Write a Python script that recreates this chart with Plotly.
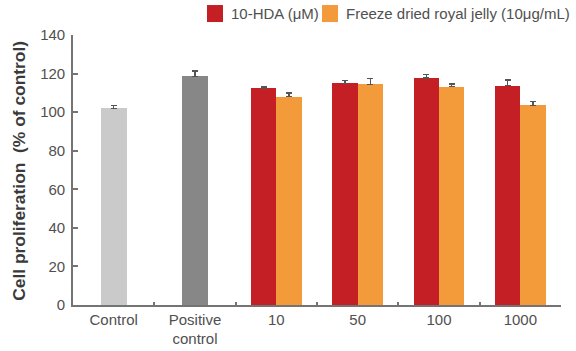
import plotly.graph_objects as go

categories = ["Control", "Positive<br>control", "10", "50", "100", "1000"]
ctrl_cats = ["Control", "Positive<br>control"]
ctrl_vals = [102, 118.5]
ctrl_err = [1.5, 2.8]
ctrl_colors = ["#c9cac9", "#878787"]

dose_cats = ["10", "50", "100", "1000"]
hda_vals = [112.6, 114.9, 117.6, 113.7]
hda_err = [0.7, 1.4, 2.0, 3.0]
rj_vals = [108.0, 114.4, 113.2, 103.5]
rj_err = [2.0, 3.0, 1.5, 1.9]

y_ticks = [0, 20, 40, 60, 80, 100, 120, 140]

FONT = "Liberation Sans"
TICKC = "#505050"
AXC = "#747474"
ERRC = "#555555"
RED = "#c41f25"
ORANGE = "#f39a3b"

fig = go.Figure()
fig.add_trace(go.Bar(
    x=ctrl_cats, y=ctrl_vals, width=0.32,
    marker=dict(color=ctrl_colors, line=dict(width=0)),
    error_y=dict(type="data", array=ctrl_err, symmetric=False, arrayminus=[0, 0],
                 color=ERRC, thickness=1.5, width=3),
    showlegend=False,
))
fig.add_trace(go.Bar(
    x=dose_cats, y=hda_vals, width=0.31, offset=-0.31,
    marker=dict(color=RED, line=dict(width=0)),
    error_y=dict(type="data", array=hda_err, symmetric=False, arrayminus=[0]*4,
                 color=ERRC, thickness=1.5, width=3),
    name="10-HDA (μM)", showlegend=False,
))
fig.add_trace(go.Bar(
    x=dose_cats, y=rj_vals, width=0.31, offset=0,
    marker=dict(color=ORANGE, line=dict(width=0)),
    error_y=dict(type="data", array=rj_err, symmetric=False, arrayminus=[0]*4,
                 color=ERRC, thickness=1.5, width=3),
    name="Freeze dried royal jelly (10μg/mL)", showlegend=False,
))

fig.update_layout(
    width=576, height=351,
    margin=dict(l=73, r=15, t=35, b=45.5, autoexpand=False),
    paper_bgcolor="white", plot_bgcolor="white",
    font=dict(family=FONT, size=15, color=TICKC),
    bargap=0, barmode="overlay",
)
fig.update_xaxes(
    type="category", categoryorder="array", categoryarray=categories,
    range=[-0.5, 5.5], automargin=False,
    showline=True, linecolor=AXC, linewidth=1.6,
    ticks="inside", tickson="boundaries", ticklen=3, tickcolor=AXC, tickwidth=1.5,
    showgrid=False, zeroline=False,
    tickfont=dict(family=FONT, size=15, color=TICKC),
)
fig.update_yaxes(
    range=[0, 140], tickvals=y_ticks, automargin=False,
    showline=True, linecolor=AXC, linewidth=1.6,
    ticks="inside", ticklen=5, tickcolor=AXC, tickwidth=1.5,
    ticklabelstandoff=3,
    showgrid=False, zeroline=False,
    tickfont=dict(family=FONT, size=15, color=TICKC),
)

# y-axis title
fig.add_annotation(
    text="<b>Cell proliferation\u00a0\u00a0(% of control)</b>",
    xref="paper", yref="paper", x=-0.1107, y=0.497,
    xanchor="center", yanchor="middle", textangle=-90, showarrow=False,
    font=dict(family=FONT, size=17.4, color="#3a3a3a"),
)

# legend (top right)
legend_items = [("10-HDA (μM)", RED, 0.2746), ("Freeze dried royal jelly (10μg/mL)", ORANGE, 0.5102)]
for label, col, x0 in legend_items:
    fig.add_shape(type="rect", xref="paper", yref="paper",
                  x0=x0, x1=x0 + 0.0328, y0=1.048, y1=1.111,
                  fillcolor=col, line=dict(width=0))
    fig.add_annotation(text=label, xref="paper", yref="paper",
                       x=x0 + 0.0451, y=1.0795, xanchor="left", yanchor="middle",
                       showarrow=False, font=dict(family=FONT, size=15, color=TICKC))

fig.write_html("out.html")
